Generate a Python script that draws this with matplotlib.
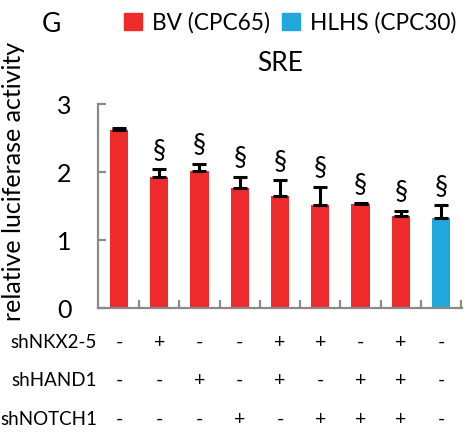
import matplotlib
matplotlib.use("Agg")
import matplotlib.pyplot as plt
from matplotlib.patches import Patch
import matplotlib.transforms as mtransforms
import numpy as np

plt.rcParams['font.family'] = ['Lato', 'DejaVu Sans']

# data
values = [2.62, 1.93, 2.01, 1.76, 1.64, 1.51, 1.53, 1.36, 1.33]
errors = [0.02, 0.11, 0.11, 0.17, 0.24, 0.27, 0.01, 0.07, 0.18]
groups = ['BV', 'BV', 'BV', 'BV', 'BV', 'BV', 'BV', 'BV', 'HLHS']
significant = [False, True, True, True, True, True, True, True, True]
row_names = ['shNKX2-5', 'shHAND1', 'shNOTCH1']
rows = [
    ['-', '+', '-', '-', '+', '+', '-', '+', '-'],
    ['-', '-', '+', '-', '+', '-', '+', '+', '-'],
    ['-', '-', '-', '+', '-', '+', '+', '+', '-'],
]
legend_labels = {'BV': 'BV (CPC65)', 'HLHS': 'HLHS (CPC30)'}
colors = {'BV': '#ee2a2a', 'HLHS': '#20a8de'}

fig = plt.figure(figsize=(4.66, 4.44), dpi=100)
ax = fig.add_axes([98 / 466, 136 / 444, 364 / 466, 204 / 444])

x = np.arange(len(values))
bar_colors = [colors[g] for g in groups]
ax.bar(x, values, width=0.45, color=bar_colors, zorder=2)
ax.errorbar(x, values, yerr=[np.zeros(len(errors)), errors], fmt='none',
            ecolor='black', elinewidth=2.2, capsize=5, capthick=2.2, zorder=3)

for xi, v, e, s in zip(x, values, errors, significant):
    if s:
        ax.text(xi, v + e + 0.28, '§', ha='center', va='center', fontsize=19)

ax.set_xlim(-0.52, len(values) - 0.48)
ax.set_ylim(0, 3)
ax.set_yticks([0, 1, 2, 3])
ax.set_xticks(np.arange(len(values)) + 0.5)
ax.set_xticklabels([])
for s in ['top', 'right']:
    ax.spines[s].set_visible(False)
for s in ['left', 'bottom']:
    ax.spines[s].set_color('#8a8a8a')
    ax.spines[s].set_linewidth(1.6)
ax.tick_params(axis='both', direction='in', color='#8a8a8a', width=1.6, length=6,
               labelsize=18)
ax.tick_params(axis='y', pad=19)
ax.set_ylabel('relative luciferase activity', fontsize=18)
ax.yaxis.set_label_coords(-0.2, 0.62)
ax.set_title('SRE', fontsize=19, pad=24)

# +/- table under the bars
trans = mtransforms.blended_transform_factory(ax.transData, ax.transAxes)
row_y = [-0.168, -0.355, -0.545]
for name, signs, ry in zip(row_names, rows, row_y):
    ax.text(-0.003, ry, name, transform=ax.transAxes, ha='right', va='center',
            fontsize=13.5)
    for xi, sg in zip(x, signs):
        ax.text(xi, ry, sg, transform=trans, ha='center', va='center', fontsize=14)

# legend and panel letter
handles = [Patch(color=colors[k], label=legend_labels[k]) for k in ['BV', 'HLHS']]
fig.legend(handles=handles, loc='upper left', bbox_to_anchor=(124 / 466, 1 - 12 / 444),
           ncol=2, frameon=False, fontsize=16.3, handlelength=0.8, handleheight=0.8,
           handletextpad=0.45, columnspacing=0.5, borderpad=0, borderaxespad=0)
fig.text(42 / 466, 1 - 24 / 444, 'G', fontsize=19, va='center', ha='left')

fig.savefig('out.png', dpi=100)
